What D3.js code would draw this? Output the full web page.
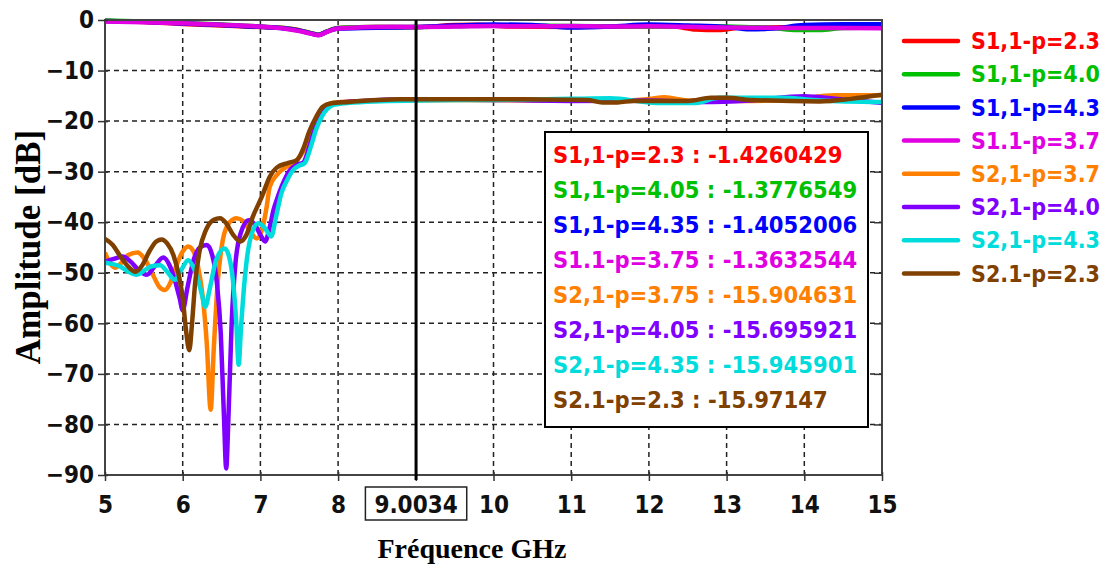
<!DOCTYPE html>
<html>
<head>
<meta charset="utf-8">
<script src="https://cdn.jsdelivr.net/npm/d3@7"></script>
<style>
  html, body { margin: 0; padding: 0; background: #fff; }
  svg { display: block; }
</style>
</head>
<body>
<script>
// S-parameter sweep: S11 / S21 for four p values, with a marker at 9.0034 GHz.

const freqTicks = [5, 6, 7, 8, 9, 10, 11, 12, 13, 14, 15];
const ampTicks = [0, -10, -20, -30, -40, -50, -60, -70, -80, -90];
const cursorFreq = 9.0034;
const cursorLabel = '9.0034';

const seriesNames = [
  'S1,1-p=2.3', 'S1,1-p=4.0', 'S1,1-p=4.3', 'S1.1-p=3.7',
  'S2,1-p=3.7', 'S2,1-p=4.0', 'S2,1-p=4.3', 'S2.1-p=2.3',
];
const seriesColors = [
  '#ff0000', '#00c000', '#0000ff', '#e100e1',
  '#ff8000', '#8000ff', '#00dcdc', '#804000',
];
const readoutNames = [
  'S1,1-p=2.3', 'S1,1-p=4.05', 'S1,1-p=4.35', 'S1.1-p=3.75',
  'S2,1-p=3.75', 'S2,1-p=4.05', 'S2,1-p=4.35', 'S2.1-p=2.3',
];
const readoutValues = [
  '-1.4260429', '-1.3776549', '-1.4052006', '-1.3632544',
  '-15.904631', '-15.695921', '-15.945901', '-15.97147',
];

// [GHz, dB]
const s11p23 = [
  [5, -0.2], [5.5, -0.4], [6, -0.8], [6.5, -1.1], [7, -1.4], [7.3, -1.6], [7.5, -2.0],
  [7.65, -2.6], [7.75, -2.9], [7.85, -2.3], [8.0, -1.6], [8.5, -1.4], [9, -1.43],
  [9.5, -1.0], [9.8, -0.95], [10.2, -1.3], [11, -1.4], [11.8, -1.3], [12.3, -1.3],
  [12.6, -1.9], [12.9, -2.0], [13.2, -1.5], [14, -1.4], [15, -1.5],
];
const s11p405 = [
  [5, -0.1], [5.5, -0.3], [6, -0.6], [6.5, -0.9], [7, -1.3], [7.3, -1.6], [7.5, -2.1],
  [7.65, -2.6], [7.75, -2.9], [7.85, -2.3], [8.0, -1.6], [8.5, -1.4], [9, -1.38],
  [10, -1.1], [11, -1.2], [12, -1.3], [12.5, -1.2], [13, -1.3], [13.6, -1.6],
  [13.9, -2.0], [14.2, -2.0], [14.5, -1.6], [15, -1.5],
];
const s11p435 = [
  [5, -0.2], [5.5, -0.35], [6, -0.7], [6.5, -1.0], [7, -1.35], [7.3, -1.65], [7.5, -2.1],
  [7.65, -2.65], [7.75, -2.95], [7.85, -2.35], [8.0, -1.7], [8.3, -1.6], [8.7, -1.5],
  [9, -1.4], [9.5, -1.1], [10, -0.9], [10.5, -1.0], [11, -1.5], [11.5, -1.3], [12, -0.9],
  [12.5, -1.1], [13.0, -1.4], [13.3, -1.85], [13.6, -1.7], [14, -1.0], [14.5, -0.85], [15, -0.85],
];
const s11p375 = [
  [5, -0.3], [5.5, -0.45], [6, -0.65], [6.5, -0.95], [7, -1.3], [7.3, -1.7], [7.5, -2.2],
  [7.65, -2.7], [7.75, -3.0], [7.85, -2.4], [8.0, -1.7], [8.3, -1.45], [8.7, -1.35],
  [9, -1.36], [9.5, -1.3], [10, -1.2], [10.5, -1.25], [11, -1.2], [11.5, -1.3], [12, -1.25],
  [12.5, -1.35], [13, -1.5], [13.5, -1.55], [14, -1.6], [14.5, -1.6], [15, -1.65],
];
const s21p375 = [
  [5.0, -46], [5.06, -48], [5.13, -49], [5.2, -48.2], [5.3, -46.5], [5.42, -46], [5.52, -47.5],
  [5.62, -50.5], [5.7, -52.8], [5.77, -53.4], [5.84, -52], [5.92, -48.5], [6.0, -45.8],
  [6.07, -44.8], [6.14, -45.8], [6.2, -49], [6.26, -55], [6.31, -64], [6.36, -77.1],
  [6.4, -65], [6.45, -52], [6.5, -45], [6.58, -40.5], [6.69, -39.2], [6.78, -39.8],
  [6.87, -41.8], [6.95, -43.2], [7.02, -41.5], [7.08, -37], [7.12, -33], [7.22, -30.5],
  [7.34, -29], [7.45, -28], [7.55, -26], [7.64, -22.5], [7.74, -19], [7.83, -17],
  [7.93, -16.4], [8.2, -16.1], [8.8, -15.9], [9.5, -15.8], [10.5, -15.9], [11.5, -16.0],
  [12.0, -15.6], [12.2, -15.3], [12.5, -15.9], [13.2, -16.0], [13.8, -15.8], [14.4, -14.9],
  [15, -14.9],
];
const s21p405 = [
  [5.0, -47.8], [5.1, -47.3], [5.23, -46.8], [5.33, -47.8], [5.44, -49.6], [5.54, -50.4],
  [5.64, -48.7], [5.75, -47], [5.83, -48.5], [5.9, -51.5], [5.96, -55], [6.0, -57.4],
  [6.06, -53], [6.14, -47.5], [6.22, -45], [6.31, -44.5], [6.38, -46.5], [6.44, -52],
  [6.49, -62], [6.53, -78], [6.56, -88.7], [6.59, -78], [6.63, -60], [6.68, -48],
  [6.75, -42], [6.85, -39.6], [6.93, -40.5], [7.0, -42.5], [7.06, -43.8], [7.12, -41],
  [7.17, -37.5], [7.21, -35.6], [7.3, -32], [7.38, -29.7], [7.47, -28.6], [7.55, -28.2],
  [7.63, -25], [7.7, -21.5], [7.77, -19.1], [7.84, -17.5], [7.92, -16.6], [8.2, -16.1],
  [9.0, -15.7], [10, -15.8], [11, -16.0], [12, -15.9], [12.7, -16.2], [13.3, -15.9],
  [14.0, -15.1], [14.4, -15.6], [15, -16.4],
];
const s21p435 = [
  [5.0, -48], [5.1, -48.3], [5.2, -48.8], [5.3, -49.8], [5.41, -50.4], [5.5, -49.6],
  [5.6, -48.7], [5.71, -48.5], [5.8, -49.8], [5.9, -51.4], [5.98, -49.5], [6.07, -47.5],
  [6.14, -49], [6.2, -51.5], [6.25, -54.5], [6.29, -56.7], [6.35, -53], [6.43, -47.5],
  [6.54, -45.2], [6.6, -47], [6.65, -52], [6.69, -60], [6.72, -68.2], [6.75, -61],
  [6.8, -51], [6.86, -44], [6.97, -40.2], [7.05, -41], [7.14, -42.8], [7.2, -39],
  [7.27, -34.3], [7.35, -31.5], [7.42, -29.7], [7.5, -28.8], [7.57, -28.3], [7.65, -25],
  [7.72, -21.5], [7.79, -19.1], [7.86, -17.6], [7.94, -16.8], [8.2, -16.3], [9.0, -15.9],
  [10, -15.8], [11, -15.6], [11.5, -15.5], [12.1, -16.4], [12.6, -16.4], [12.9, -15.4],
  [13.7, -15.4], [14.2, -15.9], [15, -16.2],
];
const s21p23 = [
  [5.0, -43.3], [5.1, -44.5], [5.2, -46.8], [5.3, -48.8], [5.39, -49.8], [5.48, -48.5],
  [5.58, -45.5], [5.66, -43.8], [5.73, -43.4], [5.8, -44.2], [5.88, -46.5], [5.95, -50.5],
  [6.0, -55], [6.04, -61], [6.085, -65.3], [6.12, -60], [6.16, -52], [6.22, -45.5],
  [6.3, -41.5], [6.4, -39.5], [6.48, -39.2], [6.56, -40.2], [6.65, -42.5], [6.74, -43.8],
  [6.82, -42.5], [6.9, -39], [7.02, -34.9], [7.12, -31], [7.21, -29.2], [7.35, -28.3],
  [7.47, -27.7], [7.55, -25.5], [7.63, -22], [7.72, -19.1], [7.8, -17.2], [7.9, -16.5],
  [8.13, -16.2], [8.8, -15.7], [10.4, -15.7], [11.2, -15.8], [11.4, -16.3], [11.6, -16.3],
  [11.8, -16.0], [12.5, -16.0], [12.8, -15.4], [13.0, -15.4], [13.3, -15.8], [14.2, -16.1],
  [14.6, -15.6], [15, -14.8],
];
const seriesData = [s11p23, s11p405, s11p435, s11p375, s21p375, s21p405, s21p435, s21p23];

// Tahoma-like label face: condensed DejaVu if present, plain DejaVu (smaller) otherwise
function hasFont(name) {
  const ctx = document.createElement('canvas').getContext('2d');
  ctx.font = 'bold 40px monospace';
  const a = ctx.measureText('S1,1-p=2.3 9.0034').width;
  ctx.font = `bold 40px '${name}', monospace`;
  return ctx.measureText('S1,1-p=2.3 9.0034').width !== a;
}
const condensed = hasFont('DejaVu Sans Condensed');
const labelFont = condensed ? "'DejaVu Sans Condensed', 'DejaVu Sans', sans-serif" : "'DejaVu Sans', sans-serif";
const fs = size => `${condensed ? size : Math.round(size * 0.9)}px`;

const W = 1106;
const H = 568;
const margin = { top: 20, right: 224, bottom: 93, left: 105 };
const width = W - margin.left - margin.right;
const height = H - margin.top - margin.bottom;

const svg = d3.select('body').append('svg').attr('width', W).attr('height', H);
const g = svg.append('g').attr('transform', `translate(${margin.left},${margin.top})`);

const x = d3.scaleLinear().domain([5, 15]).range([0, width]);
const y = d3.scaleLinear().domain([-90, 0]).range([height, 0]);

// grid
g.append('g')
  .attr('class', 'grid')
  .selectAll('line')
  .data(freqTicks.slice(1, -1))
  .join('line')
  .attr('x1', d => x(d))
  .attr('x2', d => x(d))
  .attr('y1', 0)
  .attr('y2', height)
  .attr('stroke', '#222')
  .attr('stroke-width', 1.5)
  .attr('stroke-dasharray', '5,4');

g.append('g')
  .attr('class', 'grid')
  .selectAll('line')
  .data(ampTicks.slice(1, -1))
  .join('line')
  .attr('x1', 0)
  .attr('x2', width)
  .attr('y1', d => y(d))
  .attr('y2', d => y(d))
  .attr('stroke', '#222')
  .attr('stroke-width', 1.5)
  .attr('stroke-dasharray', '5,4');

// curves
svg.append('defs')
  .append('clipPath')
  .attr('id', 'plot-clip')
  .append('rect')
  .attr('x', 0)
  .attr('y', -3)
  .attr('width', width)
  .attr('height', height + 3);

const line = d3.line()
  .x(d => x(d[0]))
  .y(d => y(d[1]))
  .curve(d3.curveMonotoneX);

g.append('g')
  .attr('clip-path', 'url(#plot-clip)')
  .selectAll('path')
  .data(seriesData)
  .join('path')
  .attr('fill', 'none')
  .attr('stroke', (d, i) => seriesColors[i])
  .attr('stroke-width', 4.5)
  .attr('stroke-linejoin', 'round')
  .attr('d', line);

// frame
g.append('rect')
  .attr('width', width)
  .attr('height', height)
  .attr('fill', 'none')
  .attr('stroke', '#444')
  .attr('stroke-width', 2);

// axes
const yAxis = g.append('g')
  .attr('class', 'axis y-axis')
  .call(d3.axisLeft(y).tickValues(ampTicks).tickSize(7).tickPadding(4));
yAxis.select('.domain').remove();
yAxis.selectAll('.tick line').attr('x1', 3).attr('stroke', '#333').attr('stroke-width', 1.5);
yAxis.selectAll('.tick text')
  .attr('font-family', labelFont)
  .attr('font-weight', 'bold')
  .attr('font-size', fs(24))
  .attr('fill', '#111');

const xAxis = g.append('g')
  .attr('class', 'axis x-axis')
  .attr('transform', `translate(0,${height})`)
  .call(d3.axisBottom(x).tickValues(freqTicks).tickSize(6).tickFormat(d => (d === 9 ? '' : d)));
xAxis.select('.domain').remove();
xAxis.selectAll('.tick line').attr('y1', -3).attr('stroke', '#333').attr('stroke-width', 1.5);
xAxis.selectAll('.tick text')
  .attr('y', 38)
  .attr('dy', 0)
  .attr('font-family', labelFont)
  .attr('font-weight', 'bold')
  .attr('font-size', fs(24))
  .attr('fill', '#111');

const rAxis = g.append('g')
  .attr('transform', `translate(${width},0)`)
  .call(d3.axisRight(y).tickValues(ampTicks.slice(1, -1)).tickSize(-8).tickFormat(''));
rAxis.select('.domain').remove();
rAxis.selectAll('.tick line').attr('stroke', '#333').attr('stroke-width', 1.5);

// cursor
const cx = x(cursorFreq);
g.append('line')
  .attr('x1', cx)
  .attr('x2', cx)
  .attr('y1', 0)
  .attr('y2', height + 5)
  .attr('stroke', '#000')
  .attr('stroke-width', 3);

const cursorText = g.append('text')
  .attr('x', cx)
  .attr('y', height + 38)
  .attr('text-anchor', 'middle')
  .attr('font-family', labelFont)
  .attr('font-weight', 'bold')
  .attr('font-size', fs(24))
  .attr('fill', '#111')
  .text(cursorLabel);
const cb = cursorText.node().getBBox();
g.insert('rect', () => cursorText.node())
  .attr('x', cb.x - 9)
  .attr('y', height + 12)
  .attr('width', cb.width + 18)
  .attr('height', 33)
  .attr('fill', '#fff')
  .attr('stroke', '#222')
  .attr('stroke-width', 1.5);

// readout box
const readout = g.append('g').attr('transform', `translate(${545 - margin.left},${132 - margin.top})`);
readout.append('rect')
  .attr('width', 323)
  .attr('height', 295)
  .attr('fill', '#fff')
  .attr('stroke', '#000')
  .attr('stroke-width', 2);
readout.selectAll('text')
  .data(readoutNames)
  .join('text')
  .attr('x', 8)
  .attr('y', (d, i) => 31 + i * 35)
  .attr('font-family', labelFont)
  .attr('font-weight', 'bold')
  .attr('font-size', fs(23.5))
  .attr('fill', (d, i) => seriesColors[i])
  .text((d, i) => `${d} : ${readoutValues[i]}`);

// legend
const legend = svg.append('g').attr('transform', 'translate(904,41)');
const rows = legend.selectAll('g')
  .data(seriesNames)
  .join('g')
  .attr('transform', (d, i) => `translate(0,${i * 33.2})`);
rows.append('line')
  .attr('x2', 54)
  .attr('stroke', (d, i) => seriesColors[i])
  .attr('stroke-width', 4.5)
  .attr('stroke-linecap', 'round');
rows.append('text')
  .attr('x', 67)
  .attr('dy', '0.36em')
  .attr('font-family', labelFont)
  .attr('font-weight', 'bold')
  .attr('font-size', fs(23))
  .attr('fill', (d, i) => seriesColors[i])
  .text(d => d);

// axis titles
svg.append('text')
  .attr('x', 472)
  .attr('y', 558)
  .attr('text-anchor', 'middle')
  .attr('font-family', "'Liberation Serif', 'Times New Roman', serif")
  .attr('font-weight', 'bold')
  .attr('font-size', 28)
  .text('Fréquence GHz');

svg.append('text')
  .attr('transform', 'translate(40,247) rotate(-90)')
  .attr('text-anchor', 'middle')
  .attr('font-family', "'Liberation Serif', 'Times New Roman', serif")
  .attr('font-weight', 'bold')
  .attr('font-size', 35)
  .text('Amplitude [dB]');
</script>
</body>
</html>
